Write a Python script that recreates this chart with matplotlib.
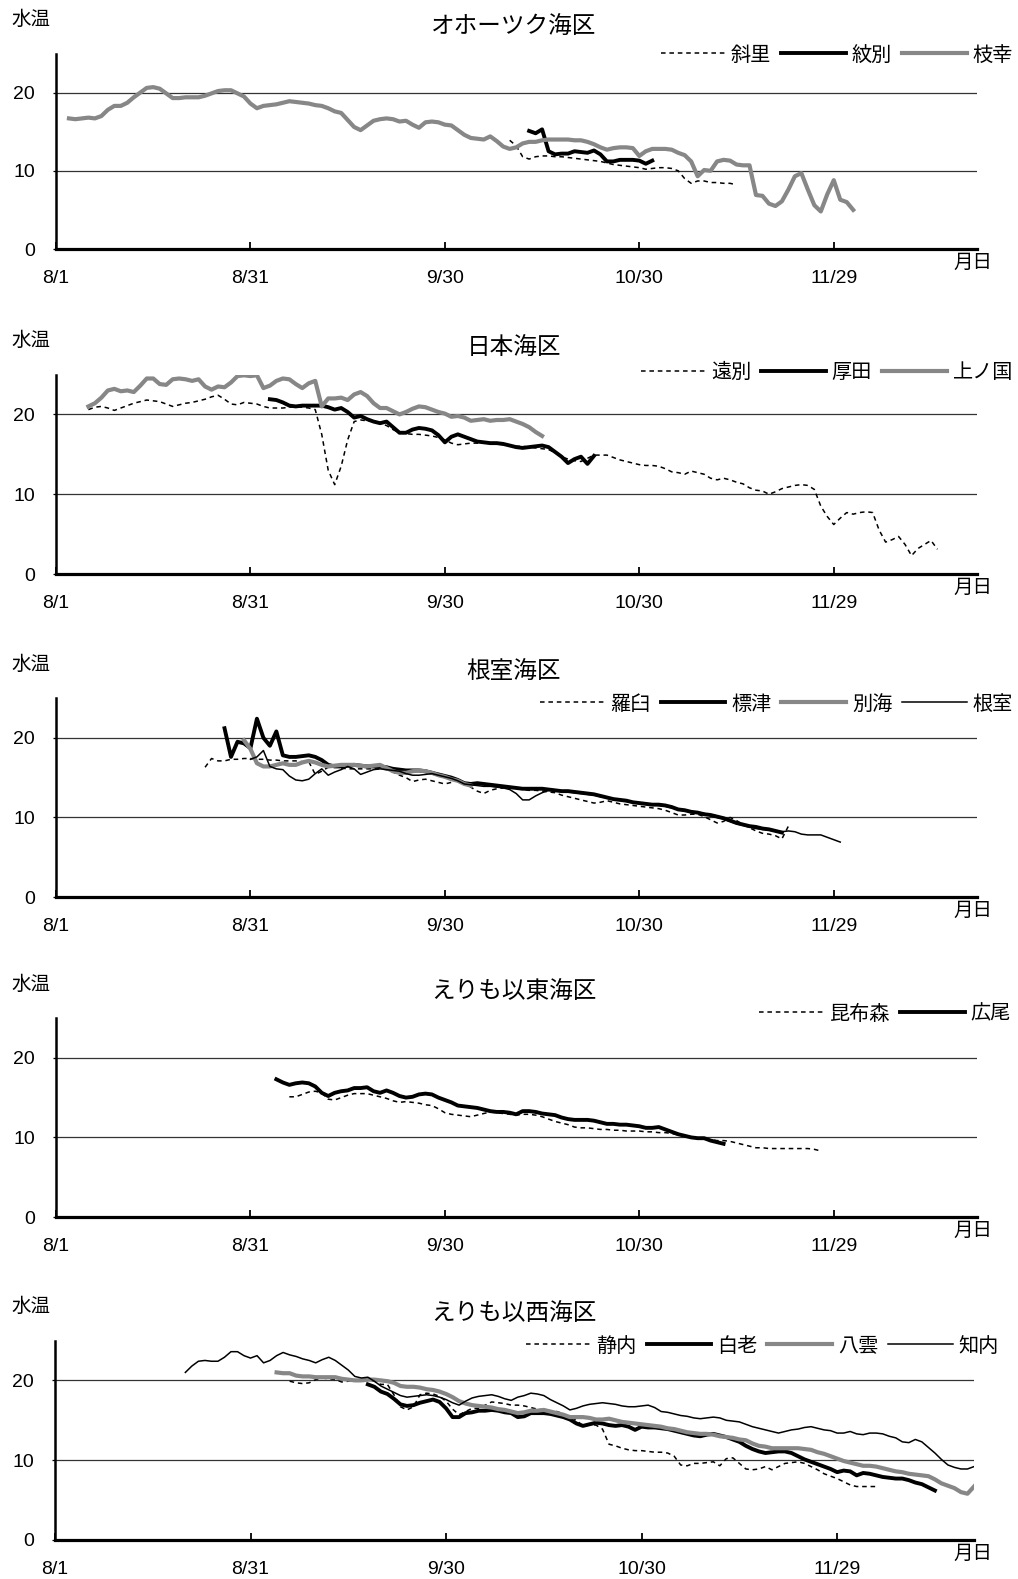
import numpy as np
import pandas as pd
import matplotlib
matplotlib.use("Agg")
import matplotlib.pyplot as plt

plt.rcParams['font.family'] = ['Liberation Sans', 'Noto Sans CJK JP']

# x axis: days counted from 8/1
tick_dates = ["08-01", "08-31", "09-30", "10-30", "11-29"]
tick_labels = ["8/1", "8/31", "9/30", "10/30", "11/29"]
y_ticks = [0, 10, 20]

# --- オホーツク海区 ---
shari_start = "10-10"
shari = [13.9, 13.2, 11.8, 11.5, 11.8, 11.9, 11.9, 11.8, 11.8, 11.7,
         11.6, 11.5, 11.4, 11.3, 11.2, 11.0, 10.8, 10.7, 10.6, 10.5,
         10.4, 10.2, 10.3, 10.4, 10.4, 10.3, 10.0, 9.0, 8.4, 8.7,
         8.7, 8.5, 8.5, 8.4, 8.4, 8.2]
monbetsu_start = "10-13"
monbetsu = [15.1, 14.8, 15.3, 12.5, 12.1, 12.2, 12.2, 12.5, 12.4, 12.3,
            12.6, 12.1, 11.2, 11.2, 11.4, 11.4, 11.4, 11.3, 10.9, 11.3]
esashi_start = "08-03"
esashi = [16.7, 16.6, 16.7, 16.8, 16.7, 17.0, 17.8, 18.3, 18.3, 18.7,
          19.4, 20.0, 20.6, 20.7, 20.5, 19.9, 19.3, 19.3, 19.4, 19.4,
          19.4, 19.6, 19.9, 20.2, 20.3, 20.3, 19.9, 19.5, 18.6, 18.0,
          18.3, 18.4, 18.5, 18.7, 18.9, 18.8, 18.7, 18.6, 18.4, 18.3,
          18.0, 17.6, 17.4, 16.5, 15.6, 15.2, 15.8, 16.4, 16.6, 16.7,
          16.6, 16.3, 16.4, 15.9, 15.5, 16.2, 16.3, 16.2, 15.9, 15.8,
          15.2, 14.6, 14.2, 14.1, 14.0, 14.4, 13.8, 13.1, 12.8, 13.0,
          13.5, 13.7, 13.7, 13.9, 14.0, 14.0, 14.0, 14.0, 13.9, 13.9,
          13.7, 13.4, 13.0, 12.7, 12.9, 13.0, 13.0, 12.9, 11.9, 12.5,
          12.8, 12.8, 12.8, 12.7, 12.3, 12.0, 11.2, 9.3, 10.1, 10.0,
          11.2, 11.4, 11.3, 10.8, 10.7, 10.7, 6.9, 6.8, 5.8, 5.5,
          6.1, 7.6, 9.3, 9.7, 7.6, 5.6, 4.8, 7.0, 8.8, 6.3,
          6.0, 5.0]

# --- 日本海区 ---
enbetsu_start = "08-06"
enbetsu = [20.6, 20.9, 21.0, 20.8, 20.5, 20.8, 21.1, 21.4, 21.6, 21.8,
           21.7, 21.6, 21.3, 21.0, 21.2, 21.4, 21.5, 21.7, 21.9, 22.2,
           22.4, 21.9, 21.3, 21.2, 21.5, 21.4, 21.3, 21.0, 20.8, 20.8,
           20.8, 20.9, 21.0, 20.9, 20.8, 20.6, 17.5, 13.0, 11.2, 13.5,
           16.8, 19.1, 19.3, 19.2, 19.1, 18.9, 18.6, 18.1, 17.7, 17.6,
           17.5, 17.5, 17.4, 17.3, 17.1, 16.8, 16.4, 16.2, 16.3, 16.4,
           16.4, 16.4, 16.4, 16.3, 16.2, 16.1, 16.0, 16.0, 15.9, 15.8,
           15.7, 15.6, 15.2, 14.7, 14.4, 14.2, 14.1, 14.5, 14.9, 14.9,
           14.9, 14.6, 14.3, 14.1, 13.9, 13.7, 13.6, 13.6, 13.5, 13.2,
           12.8, 12.7, 12.5, 12.9, 12.7, 12.5, 12.0, 11.8, 12.0, 11.8,
           11.5, 11.3, 10.8, 10.5, 10.4, 10.0, 10.3, 10.7, 10.9, 11.1,
           11.2, 11.1, 10.6, 8.5, 7.2, 6.2, 7.0, 7.7, 7.5, 7.7,
           7.8, 7.7, 5.5, 4.0, 4.3, 4.7, 3.7, 2.3, 3.2, 3.7,
           4.2, 3.1]
atsuta_start = "09-03"
atsuta = [21.9, 21.8, 21.5, 21.1, 21.0, 21.1, 21.1, 21.1, 21.1, 20.9,
          20.6, 20.8, 20.3, 19.6, 19.8, 19.4, 19.1, 18.9, 19.1, 18.4,
          17.7, 17.7, 18.1, 18.3, 18.2, 18.0, 17.4, 16.5, 17.2, 17.5,
          17.2, 16.9, 16.6, 16.5, 16.4, 16.4, 16.3, 16.1, 15.9, 15.8,
          15.9, 16.0, 16.1, 15.9, 15.3, 14.7, 13.9, 14.4, 14.7, 13.8,
          14.8]
kaminokuni_start = "08-06"
kaminokuni = [21.0, 21.4, 22.1, 23.0, 23.2, 22.9, 23.0, 22.8, 23.6, 24.5,
              24.5, 23.8, 23.7, 24.4, 24.5, 24.4, 24.2, 24.4, 23.5, 23.1,
              23.5, 23.4, 24.0, 24.8, 24.9, 24.8, 24.9, 23.3, 23.6, 24.2,
              24.5, 24.4, 23.8, 23.3, 23.9, 24.2, 21.0, 22.0, 22.0, 22.1,
              21.8, 22.5, 22.8, 22.3, 21.4, 20.8, 20.8, 20.4, 20.0, 20.3,
              20.7, 21.0, 20.9, 20.6, 20.3, 20.1, 19.7, 19.8, 19.6, 19.2,
              19.3, 19.4, 19.2, 19.3, 19.3, 19.4, 19.1, 18.8, 18.4, 17.8,
              17.3]

# --- 根室海区 ---
rausu_start = "08-24"
rausu = [16.3, 17.4, 17.1, 17.1, 17.3, 17.3, 17.4, 17.4, 17.3, 17.3,
         17.2, 17.2, 17.1, 17.1, 17.1, 17.0, 17.0, 15.4, 15.8, 16.3,
         16.4, 16.2, 16.1, 16.1, 16.1, 16.1, 16.1, 16.1, 16.0, 15.7,
         15.3, 15.0, 14.5, 14.7, 14.8, 14.6, 14.4, 14.2, 14.4, 14.7,
         14.4, 13.8, 13.3, 13.0, 13.4, 13.6, 13.7, 13.7, 13.6, 13.5,
         13.4, 13.4, 13.3, 13.2, 13.1, 12.8, 12.6, 12.4, 12.2, 12.0,
         11.8, 11.9, 12.1, 11.9, 11.7, 11.6, 11.5, 11.4, 11.3, 11.2,
         11.1, 10.9, 10.6, 10.3, 10.3, 10.4, 10.4, 10.1, 9.7, 9.3,
         9.5, 10.0, 9.6, 9.1, 8.7, 8.3, 8.0, 7.9, 7.7, 7.3,
         8.9]
shibetsu_start = "08-27"
shibetsu = [21.2, 17.6, 19.5, 19.3, 18.7, 22.4, 20.0, 19.0, 20.8, 17.8,
            17.6, 17.6, 17.7, 17.8, 17.6, 17.2, 16.6, 16.4, 16.4, 16.5,
            16.6, 16.5, 16.4, 16.4, 16.4, 16.3, 16.1, 16.0, 15.9, 15.9,
            15.9, 15.8, 15.6, 15.4, 15.2, 15.0, 14.7, 14.3, 14.2, 14.3,
            14.2, 14.1, 14.0, 13.9, 13.8, 13.7, 13.6, 13.6, 13.6, 13.6,
            13.5, 13.4, 13.3, 13.3, 13.2, 13.1, 13.0, 12.9, 12.7, 12.5,
            12.3, 12.2, 12.1, 11.9, 11.8, 11.7, 11.6, 11.6, 11.5, 11.3,
            11.0, 10.9, 10.7, 10.6, 10.4, 10.3, 10.1, 9.9, 9.6, 9.3,
            9.1, 8.9, 8.8, 8.6, 8.5, 8.3, 8.1]
betsukai_start = "08-30"
betsukai = [19.7, 18.6, 16.8, 16.4, 16.4, 16.6, 16.8, 16.6, 16.6, 16.9,
            17.1, 16.9, 16.6, 16.4, 16.5, 16.6, 16.6, 16.6, 16.5, 16.4,
            16.5, 16.6, 16.2, 15.8, 15.6, 15.6, 15.8, 15.9, 15.8, 15.6,
            15.3, 15.1, 14.8, 14.6, 14.2, 14.0]
nemuro_start = "08-31"
nemuro = [17.3, 17.6, 18.4, 16.4, 16.1, 16.0, 15.2, 14.7, 14.6, 14.8,
          15.5, 16.1, 15.3, 15.7, 16.0, 16.4, 16.1, 15.4, 15.7, 16.0,
          16.1, 16.0, 15.9, 15.8, 15.5, 15.3, 15.3, 15.4, 15.5, 15.3,
          15.1, 14.9, 14.6, 14.2, 14.1, 14.0, 13.9, 13.9, 13.8, 13.7,
          13.5, 13.0, 12.2, 12.2, 12.7, 13.1, 13.4, 13.4, 13.3, 13.2,
          13.1, 13.0, 12.9, 12.8, 12.6, 12.5, 12.3, 12.2, 12.0, 11.9,
          11.8, 11.7, 11.6, 11.5, 11.4, 11.2, 11.0, 10.8, 10.7, 10.6,
          10.5, 10.2, 10.0, 9.8, 9.5, 9.2, 9.0, 8.8, 8.6, 8.5,
          8.4, 8.3, 8.2, 8.3, 8.2, 7.9, 7.8, 7.8, 7.8, 7.5,
          7.2, 6.9]

# --- えりも以東海区 ---
konbumori_start = "09-06"
konbumori = [15.1, 15.1, 15.4, 15.7, 15.8, 15.6, 14.8, 14.7, 15.0, 15.3,
             15.5, 15.5, 15.5, 15.3, 15.1, 14.9, 14.6, 14.4, 14.5, 14.4,
             14.3, 14.1, 14.0, 13.6, 13.1, 12.9, 12.8, 12.7, 12.6, 12.8,
             13.0, 13.2, 13.1, 13.0, 12.9, 12.8, 12.9, 12.9, 12.8, 12.6,
             12.3, 12.0, 11.8, 11.6, 11.3, 11.2, 11.2, 11.1, 11.0, 11.0,
             10.9, 10.9, 10.8, 10.8, 10.8, 10.7, 10.7, 10.6, 10.6, 10.5,
             10.3, 10.2, 10.0, 9.9, 9.8, 9.7, 9.6, 9.6, 9.5, 9.3,
             9.1, 8.9, 8.7, 8.7, 8.6, 8.6, 8.6, 8.6, 8.6, 8.6,
             8.6, 8.5, 8.3]
hiroo_start = "09-04"
hiroo = [17.3, 16.9, 16.6, 16.8, 16.9, 16.8, 16.4, 15.6, 15.2, 15.6,
         15.8, 15.9, 16.2, 16.2, 16.3, 15.8, 15.6, 15.9, 15.6, 15.2,
         15.0, 15.1, 15.4, 15.5, 15.4, 15.0, 14.7, 14.4, 14.0, 13.9,
         13.8, 13.7, 13.5, 13.3, 13.2, 13.2, 13.1, 12.9, 13.3, 13.3,
         13.2, 13.0, 12.9, 12.8, 12.5, 12.3, 12.2, 12.2, 12.2, 12.1,
         11.9, 11.7, 11.7, 11.6, 11.6, 11.5, 11.4, 11.2, 11.2, 11.3,
         11.0, 10.7, 10.4, 10.2, 10.0, 9.9, 9.9, 9.6, 9.4, 9.2]

# --- えりも以西海区 ---
shizunai_start = "09-06"
shizunai = [19.9, 19.7, 19.6, 19.7, 20.1, 20.3, 20.2, 20.1, 19.8, 19.9,
            20.0, 20.0, 20.0, 19.9, 19.5, 19.5, 18.2, 16.7, 16.3, 16.7,
            18.2, 18.4, 18.3, 18.0, 17.4, 16.4, 15.7, 16.1, 16.5, 16.5,
            16.9, 17.3, 17.2, 17.1, 16.9, 16.9, 16.8, 16.6, 16.4, 16.3,
            16.2, 16.1, 15.8, 15.4, 15.0, 14.3, 14.4, 14.4, 13.9, 12.0,
            11.8, 11.5, 11.3, 11.2, 11.2, 11.1, 11.0, 11.0, 10.9, 10.5,
            9.4, 9.3, 9.6, 9.6, 9.7, 9.8, 9.3, 10.2, 10.3, 9.6,
            8.9, 8.8, 8.9, 9.2, 8.8, 9.2, 9.6, 9.7, 9.8, 9.6,
            9.2, 8.8, 8.3, 8.0, 7.7, 7.3, 6.9, 6.7, 6.7, 6.7,
            6.7]
shiraoi_start = "09-18"
shiraoi = [19.5, 19.2, 18.6, 18.3, 17.7, 17.0, 16.8, 16.9, 17.2, 17.4,
           17.6, 17.3, 16.5, 15.4, 15.4, 15.9, 16.0, 16.2, 16.2, 16.3,
           16.2, 16.0, 15.9, 15.4, 15.5, 15.9, 15.9, 15.9, 15.8, 15.6,
           15.4, 15.1, 14.6, 14.3, 14.5, 14.7, 14.6, 14.4, 14.3, 14.4,
           14.2, 13.8, 14.2, 14.1, 14.1, 14.0, 13.9, 13.7, 13.5, 13.3,
           13.1, 13.0, 13.2, 13.3, 13.1, 12.9, 12.6, 12.3, 11.8, 11.4,
           11.1, 10.9, 11.0, 11.1, 11.1, 10.9, 10.5, 10.1, 9.8, 9.5,
           9.2, 8.9, 8.5, 8.7, 8.6, 8.1, 8.4, 8.3, 8.1, 7.9,
           7.8, 7.7, 7.7, 7.5, 7.2, 7.0, 6.6, 6.2]
yakumo_start = "09-04"
yakumo = [21.0, 20.9, 20.9, 20.6, 20.5, 20.5, 20.4, 20.4, 20.4, 20.4,
          20.2, 20.1, 20.0, 20.0, 20.1, 20.1, 20.0, 19.9, 19.7, 19.3,
          19.2, 19.2, 19.1, 18.9, 18.8, 18.6, 18.3, 17.9, 17.4, 17.1,
          16.9, 16.8, 16.7, 16.6, 16.4, 16.3, 16.1, 15.9, 16.0, 16.2,
          16.2, 16.3, 16.1, 15.9, 15.7, 15.4, 15.4, 15.4, 15.3, 15.1,
          15.1, 15.2, 15.0, 14.8, 14.7, 14.6, 14.5, 14.4, 14.3, 14.2,
          14.0, 13.9, 13.7, 13.5, 13.4, 13.3, 13.3, 13.2, 13.0, 12.9,
          12.8, 12.6, 12.5, 12.1, 11.8, 11.7, 11.5, 11.5, 11.5, 11.5,
          11.5, 11.4, 11.3, 11.0, 10.8, 10.5, 10.2, 9.9, 9.7, 9.5,
          9.3, 9.3, 9.2, 9.0, 8.8, 8.6, 8.5, 8.3, 8.2, 8.1,
          8.0, 7.6, 7.1, 6.8, 6.5, 6.0, 5.8, 6.7]
shiriuchi_start = "08-21"
shiriuchi = [21.0, 21.8, 22.4, 22.5, 22.4, 22.4, 22.9, 23.6, 23.6, 23.1,
             22.8, 23.1, 22.2, 22.5, 23.1, 23.5, 23.2, 23.0, 22.7, 22.5,
             22.2, 22.6, 22.9, 22.5, 21.9, 21.3, 20.5, 20.3, 20.4, 19.9,
             19.3, 18.9, 18.5, 18.1, 17.9, 18.0, 18.1, 18.2, 18.1, 17.9,
             17.6, 17.2, 16.9, 17.4, 17.8, 18.0, 18.1, 18.2, 18.0, 17.7,
             17.5, 17.9, 18.1, 18.4, 18.3, 18.1, 17.6, 17.2, 16.8, 16.3,
             16.5, 16.8, 17.0, 17.1, 17.2, 17.1, 17.0, 16.8, 16.7, 16.7,
             16.8, 16.9, 16.6, 16.1, 16.0, 15.8, 15.6, 15.5, 15.3, 15.2,
             15.3, 15.4, 15.3, 15.0, 14.9, 14.8, 14.5, 14.2, 14.0, 13.8,
             13.6, 13.4, 13.6, 13.8, 13.9, 14.1, 14.2, 14.0, 13.8, 13.7,
             13.4, 13.4, 13.6, 13.3, 13.2, 13.4, 13.4, 13.3, 13.0, 12.8,
             12.3, 12.2, 12.6, 12.3, 11.6, 10.9, 10.1, 9.4, 9.1, 8.9,
             8.9, 9.2]

# line styles used for the stations
styles = {
    "dash": dict(color="black", lw=1.1, ls=(0, (3, 2.5))),
    "thick": dict(color="black", lw=2.8),
    "gray": dict(color="#878787", lw=3.0),
    "thin": dict(color="black", lw=1.1),
}

# panel layout in pixels: axes top/bottom/left/right, legend anchor (right, y)
panels = [
    dict(title="オホーツク海区", top=53.5, bottom=249, left=56, right=977, xmax=142.1,
         legend=(1013, 55),
         series=[("斜里", shari_start, shari, "dash"),
                 ("紋別", monbetsu_start, monbetsu, "thick"),
                 ("枝幸", esashi_start, esashi, "gray")]),
    dict(title="日本海区", top=374.5, bottom=574, left=56, right=977, xmax=142.1,
         legend=(1013, 372),
         series=[("遠別", enbetsu_start, enbetsu, "dash"),
                 ("厚田", atsuta_start, atsuta, "thick"),
                 ("上ノ国", kaminokuni_start, kaminokuni, "gray")]),
    dict(title="根室海区", top=698, bottom=897, left=56, right=977, xmax=142.1,
         legend=(1013, 704),
         series=[("羅臼", rausu_start, rausu, "dash"),
                 ("標津", shibetsu_start, shibetsu, "thick"),
                 ("別海", betsukai_start, betsukai, "gray"),
                 ("根室", nemuro_start, nemuro, "thin")]),
    dict(title="えりも以東海区", top=1018, bottom=1217, left=56, right=977, xmax=142.1,
         legend=(1011, 1014),
         series=[("昆布森", konbumori_start, konbumori, "dash"),
                 ("広尾", hiroo_start, hiroo, "thick")]),
    dict(title="えりも以西海区", top=1340.5, bottom=1540, left=55, right=974, xmax=141.0,
         legend=(999, 1346),
         series=[("静内", shizunai_start, shizunai, "dash"),
                 ("白老", shiraoi_start, shiraoi, "thick"),
                 ("八雲", yakumo_start, yakumo, "gray"),
                 ("知内", shiriuchi_start, shiriuchi, "thin")]),
]

W, H = 1018, 1579
BASE = pd.Timestamp("2000-08-01")


def day_of(mmdd):
    return (pd.Timestamp(f"2000-{mmdd}") - BASE).days


def fx(px):
    return px / W


def fy(py):
    return 1 - py / H


fig = plt.figure(figsize=(W / 100, H / 100), dpi=100)
tick_days = [day_of(d) for d in tick_dates]

for p in panels:
    ax = fig.add_axes([fx(p["left"]), fy(p["bottom"]),
                       (p["right"] - p["left"]) / W, (p["bottom"] - p["top"]) / H])
    for name, start, vals, st in p["series"]:
        x = day_of(start) + np.arange(len(vals))
        ax.plot(x, vals, label=name, solid_joinstyle="round", **styles[st])

    ax.set_xlim(0, p["xmax"])
    ax.set_ylim(0, 25)
    ax.set_xticks(tick_days, tick_labels)
    ax.set_yticks(y_ticks)
    ax.grid(axis="y", color="#333333", lw=0.9)
    ax.set_axisbelow(True)
    for s in ["top", "right"]:
        ax.spines[s].set_visible(False)
    ax.spines["left"].set_linewidth(1.8)
    ax.spines["bottom"].set_linewidth(2.3)
    ax.tick_params(axis="x", direction="in", length=5, width=1.3, pad=15, labelsize=14)
    ax.tick_params(axis="y", direction="out", length=2, width=0.9, pad=13, labelsize=14)

    ax.legend(loc="center right", ncol=len(p["series"]),
              bbox_to_anchor=(fx(p["legend"][0]), fy(p["legend"][1])),
              bbox_transform=fig.transFigure, frameon=False, fontsize=14.5,
              handlelength=3.2, handletextpad=0.3, columnspacing=0.5,
              borderpad=0, borderaxespad=0)

    fig.text(fx(514), fy(p["top"] - 25.5), p["title"], ha="center", va="center", fontsize=17)
    fig.text(fx(31), fy(p["top"] - 33.5), "水温", ha="center", va="center", fontsize=14)
    fig.text(fx(973), fy(p["bottom"] + 14), "月日", ha="center", va="center", fontsize=14)

fig.savefig("out.png", dpi=100)
